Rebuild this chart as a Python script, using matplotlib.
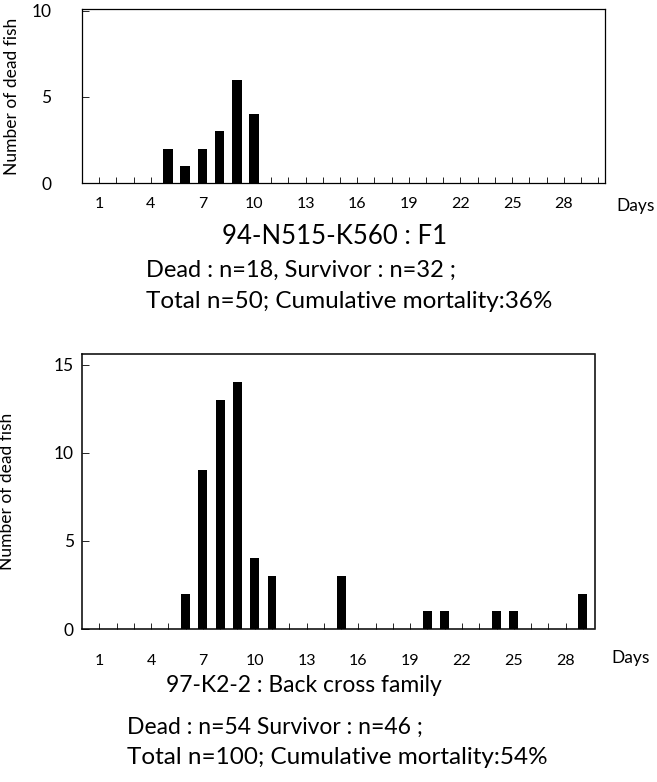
import matplotlib.pyplot as plt

plt.rcParams['font.family'] = ['Lato', 'DejaVu Sans']

# 94-N515-K560 : F1
days_f1 = [5, 6, 7, 8, 9, 10]
dead_f1 = [2, 1, 2, 3, 6, 4]

# 97-K2-2 : back cross family
days_bc = [6, 7, 8, 9, 10, 11, 15, 20, 21, 24, 25, 29]
dead_bc = [2, 9, 13, 14, 4, 3, 3, 1, 1, 1, 1, 2]

tick_days = [1, 4, 7, 10, 13, 16, 19, 22, 25, 28]

W, H = 657, 782
fig = plt.figure(figsize=(W / 100, H / 100), dpi=100)


def box(l, t, r, b):
    # pixel box -> figure fraction
    return [l / W, 1 - b / H, (r - l) / W, (b - t) / H]


# ---- top panel
ax1 = fig.add_axes(box(82, 9, 605, 183))
ax1.bar(days_f1, dead_f1, width=0.55, color='black')
ax1.set_xlim(0, 30.4)
ax1.set_ylim(0, 10.1)
ax1.set_yticks([0, 5, 10])
ax1.set_xticks(tick_days)
ax1.set_xticks(range(1, 31), minor=True)
ax1.tick_params(axis='x', which='both', direction='in', length=4, width=0.6)
ax1.tick_params(axis='x', which='major', pad=10, labelsize=11.5)
ax1.tick_params(axis='y', direction='in', length=5, width=0.6, pad=22, labelsize=12.5)
for s in ax1.spines.values():
    s.set_linewidth(0.9)
ax1.set_ylabel('Number of dead fish', fontsize=12.5)
ax1.yaxis.set_label_coords(-0.118, 0.5)
fig.text(636 / W, 1 - 206 / H, 'Days', fontsize=12.5, ha='center', va='center')

fig.text(335 / W, 1 - 236 / H, '94-N515-K560 : F1', fontsize=18.5, ha='center', va='center')
fig.text(146 / W, 1 - 270 / H, 'Dead : n=18, Survivor : n=32 ;', fontsize=17, ha='left', va='center')
fig.text(146 / W, 1 - 302 / H, 'Total n=50; Cumulative mortality:36%', fontsize=17.5, ha='left', va='center')

# ---- bottom panel
ax2 = fig.add_axes(box(82, 354, 595, 629))
ax2.bar(days_bc, dead_bc, width=0.52, color='black')
ax2.set_xlim(0, 29.7)
ax2.set_ylim(0, 15.6)
ax2.set_yticks([0, 5, 10, 15])
ax2.set_xticks(tick_days)
ax2.set_xticks(range(1, 30), minor=True)
ax2.tick_params(axis='x', which='both', direction='in', length=4, width=0.6)
ax2.tick_params(axis='x', which='major', pad=18, labelsize=11.5)
ax2.tick_params(axis='y', direction='in', length=5, width=0.6, pad=6, labelsize=12.5)
for s in ax2.spines.values():
    s.set_linewidth(1.1)
    s.set_linestyle((0, (1, 1)))
ax2.set_ylabel('Number of dead fish', fontsize=12.5)
ax2.yaxis.set_label_coords(-0.13, 0.5)
fig.text(631 / W, 1 - 658 / H, 'Days', fontsize=12.5, ha='center', va='center')

fig.text(166 / W, 1 - 686 / H, '97-K2-2 : Back cross family', fontsize=16.5, ha='left', va='center')
fig.text(127 / W, 1 - 727 / H, 'Dead : n=54 Survivor : n=46 ;', fontsize=16.5, ha='left', va='center')
fig.text(127 / W, 1 - 757 / H, 'Total n=100; Cumulative mortality:54%', fontsize=17.5, ha='left', va='center')

fig.savefig('out.png', dpi=100)
